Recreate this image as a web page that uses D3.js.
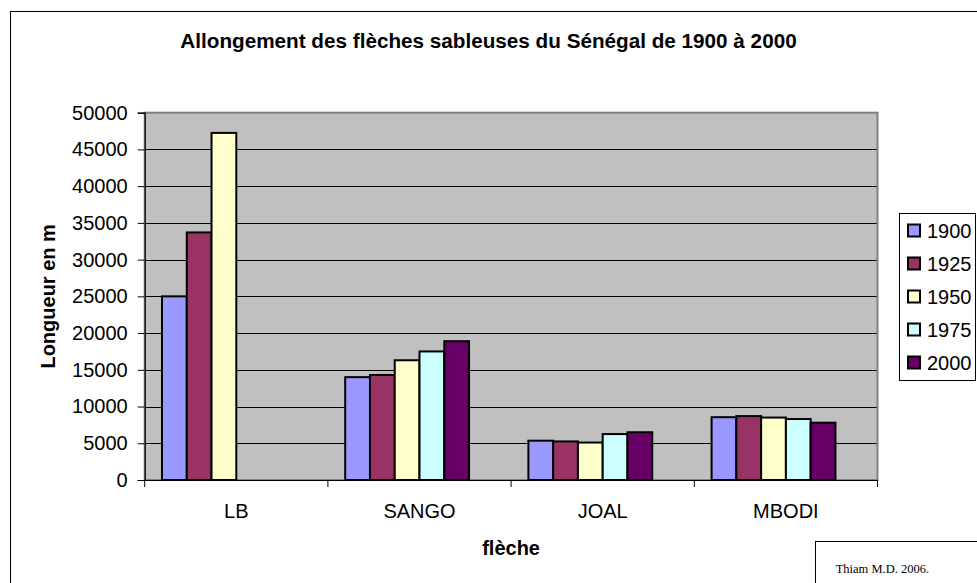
<!DOCTYPE html>
<html>
<head>
<meta charset="utf-8">
<script src="https://cdn.jsdelivr.net/npm/d3@7"></script>
<style>
  html, body { margin: 0; padding: 0; background: #fff; }
  svg { display: block; }
  text { fill: #000; }
</style>
</head>
<body>
<svg id="chart" width="977" height="583"></svg>
<script>
// Length of the sand spits, per spit and per year (metres)
const categories = ["LB", "SANGO", "JOAL", "MBODI"];
const years = ["1900", "1925", "1950", "1975", "2000"];
const v1900 = [25000, 14000, 5350, 8550];
const v1925 = [33700, 14300, 5250, 8700];
const v1950 = [47250, 16300, 5100, 8500];
const v1975 = [null, 17500, 6250, 8300];
const v2000 = [null, 18900, 6500, 7800];
const yTicks = [0, 5000, 10000, 15000, 20000, 25000, 30000, 35000, 40000, 45000, 50000];
const colors = ["#9999FF", "#993366", "#FFFFCC", "#CCFFFF", "#660066"];

const seriesValues = [v1900, v1925, v1950, v1975, v2000];

const SANS = "'Liberation Sans', Arial, sans-serif";
const SERIF = "'Liberation Serif', 'Times New Roman', serif";

const svg = d3.select("#chart");
const W = 977, H = 583;

// Outer chart frame (continues past the right and bottom edges)
svg.append("rect")
  .attr("x", 10.5).attr("y", 11.5)
  .attr("width", W + 20).attr("height", H + 20)
  .attr("fill", "#fff").attr("stroke", "#000").attr("stroke-width", 1);

const plot = { left: 144.7, right: 877.5, top: 112.7, bottom: 480 };

const x0 = d3.scaleBand().domain(categories).range([plot.left, plot.right]).paddingInner(0).paddingOuter(0);
const y = d3.scaleLinear().domain([0, 50000]).range([plot.bottom, plot.top]);

// Six slots per category, five of them used by the series
const groupPad = 17.3;
const slotW = (x0.bandwidth() - 2 * groupPad) / 6;
const x1 = d3.scaleBand().domain(years).range([groupPad, groupPad + 5 * slotW]).padding(0);

// Plot area background
svg.append("rect")
  .attr("x", plot.left).attr("y", plot.top)
  .attr("width", plot.right - plot.left).attr("height", plot.bottom - plot.top)
  .attr("fill", "#C0C0C0");

// Horizontal gridlines
svg.append("g").selectAll("line")
  .data(yTicks.filter(d => d > 0 && d < 50000))
  .join("line")
  .attr("x1", plot.left).attr("x2", plot.right)
  .attr("y1", d => Math.round(y(d)) + 0.5).attr("y2", d => Math.round(y(d)) + 0.5)
  .attr("stroke", "#000").attr("stroke-width", 1);

// Plot area border
svg.append("rect")
  .attr("x", plot.left).attr("y", plot.top)
  .attr("width", plot.right - plot.left).attr("height", plot.bottom - plot.top)
  .attr("fill", "none").attr("stroke", "#808080").attr("stroke-width", 2);

// Bars
const groups = svg.append("g").selectAll("g")
  .data(categories)
  .join("g")
  .attr("transform", d => `translate(${x0(d)},0)`);

groups.selectAll("rect")
  .data((c, ci) => years.map((yr, si) => ({ yr, si, v: seriesValues[si][ci] })).filter(d => d.v != null))
  .join("rect")
  .attr("x", d => x1(d.yr))
  .attr("width", x1.bandwidth())
  .attr("y", d => y(d.v))
  .attr("height", d => y(0) - y(d.v))
  .attr("fill", d => colors[d.si])
  .attr("stroke", "#000").attr("stroke-width", 2);

// Y axis
const yAxis = svg.append("g")
  .attr("transform", `translate(${plot.left},0)`)
  .call(d3.axisLeft(y).tickValues(yTicks).tickFormat(d3.format("d")).tickSize(7).tickPadding(10));
yAxis.select(".domain").attr("stroke", "#000").attr("stroke-width", 1.2);
yAxis.selectAll(".tick line").attr("stroke", "#000");
yAxis.selectAll("text").style("font-family", SANS).style("font-size", "20px");

// X axis: labels centred on categories, ticks on category boundaries
const xAxis = svg.append("g")
  .attr("transform", `translate(0,${plot.bottom})`)
  .call(d3.axisBottom(x0).tickSize(0).tickPadding(24));
xAxis.select(".domain").attr("stroke", "#000").attr("stroke-width", 1.2);
xAxis.selectAll("text").style("font-family", SANS).style("font-size", "20px");
xAxis.append("g").selectAll("line")
  .data(categories.map(c => x0(c)).concat([x0(categories[categories.length - 1]) + x0.bandwidth()]))
  .join("line")
  .attr("x1", d => d).attr("x2", d => d)
  .attr("y1", 0).attr("y2", 7)
  .attr("stroke", "#000");

// Title
svg.append("text")
  .attr("x", 488.5).attr("y", 48)
  .attr("text-anchor", "middle")
  .style("font-family", SANS).style("font-size", "20.7px").style("font-weight", "bold")
  .text("Allongement des flèches sableuses du Sénégal de 1900 à 2000");

// Axis titles
svg.append("text")
  .attr("x", (plot.left + plot.right) / 2).attr("y", 555)
  .attr("text-anchor", "middle")
  .style("font-family", SANS).style("font-size", "20px").style("font-weight", "bold")
  .text("flèche");

svg.append("text")
  .attr("transform", `translate(55,${(plot.top + plot.bottom) / 2}) rotate(-90)`)
  .attr("text-anchor", "middle")
  .style("font-family", SANS).style("font-size", "20px").style("font-weight", "bold")
  .text("Longueur en m");

// Legend
const legend = svg.append("g");
legend.append("rect")
  .attr("x", 899.5).attr("y", 213.5)
  .attr("width", 76).attr("height", 167)
  .attr("fill", "#fff").attr("stroke", "#000").attr("stroke-width", 1);

const items = legend.selectAll("g.item")
  .data(years)
  .join("g")
  .attr("class", "item")
  .attr("transform", (d, i) => `translate(0,${230.5 + i * 33})`);

items.append("rect")
  .attr("x", 908).attr("y", -6)
  .attr("width", 12).attr("height", 12)
  .attr("fill", (d, i) => colors[i])
  .attr("stroke", "#000").attr("stroke-width", 2);

items.append("text")
  .attr("x", 927).attr("y", 0).attr("dy", "0.36em")
  .style("font-family", SANS).style("font-size", "20px")
  .text(d => d);

// Source box
svg.append("rect")
  .attr("x", 815.5).attr("y", 541.5)
  .attr("width", 200).attr("height", 80)
  .attr("fill", "#fff").attr("stroke", "#000").attr("stroke-width", 1);

svg.append("text")
  .attr("x", 835.7).attr("y", 573)
  .style("font-family", SERIF).style("font-size", "12.5px")
  .text("Thiam M.D. 2006.");
</script>
</body>
</html>
